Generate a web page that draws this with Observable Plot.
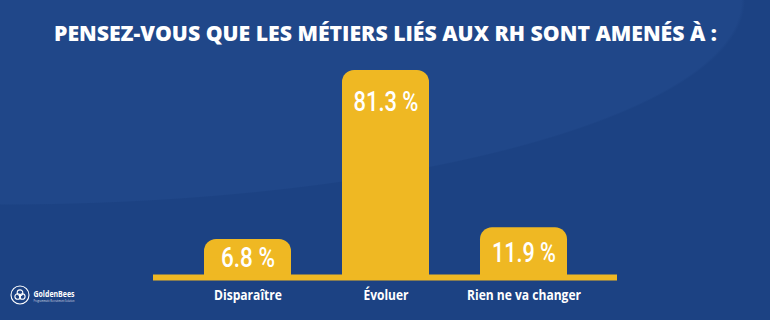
<!DOCTYPE html>
<html>
<head>
<meta charset="utf-8">
<script src="https://cdn.jsdelivr.net/npm/d3@7"></script>
<script src="https://cdn.jsdelivr.net/npm/@observablehq/plot@0.6"></script>
<style>
  html, body { margin: 0; padding: 0; background: #1c4283; }
  #chart {
    width: 770px; height: 320px; overflow: hidden;
    background:
      radial-gradient(ellipse 745px 205px at 0 0, #204789 0 99.5%, rgba(0,0,0,0) 100%),
      #1c4283;
  }
  #chart svg { display: block; }
</style>
</head>
<body>
<div id="chart"></div>
<script>
const title = "PENSEZ-VOUS QUE LES MÉTIERS LIÉS AUX RH SONT AMENÉS À :";
const categories = ["Disparaître", "Évoluer", "Rien ne va changer"];
const values = [6.8, 81.3, 11.9];
const valueLabels = ["6.8 %", "81.3 %", "11.9 %"];

const data = categories.map((c, i) => ({ cat: c, value: values[i], label: valueLabels[i] }));

const gold = "#efb823";
const base = -10;           // visual baseline offset (bars start below zero)
const labelInset = 14.1;    // label offset from bar top, in value units

const plot = Plot.plot({
  width: 770,
  height: 320,
  marginTop: 70,
  marginBottom: 43,
  marginLeft: 153,
  marginRight: 153,
  style: { background: "transparent", color: "white", fontFamily: "'Open Sans', sans-serif", overflow: "visible" },
  x: { domain: categories, paddingInner: 0.373, paddingOuter: 0.358, axis: null },
  y: { domain: [base, 81.3], axis: null },
  marks: [
    Plot.barY(data, { x: "cat", y1: base, y2: "value", fill: gold, rx: 12 }),
    Plot.barY(data, { x: "cat", y1: base, y2: d => (d.value + base) / 2, fill: gold }),
    Plot.ruleY([base], { stroke: gold, strokeWidth: 6 }),
    Plot.text(data, {
      x: "cat",
      y: d => d.value - Math.min((d.value - base) / 2, labelInset),
      text: "label",
      fill: "white",
      fontSize: 28,
      fontFamily: "Roboto, sans-serif",
      fontWeight: 500,
      lineAnchor: "middle"
    }),
    Plot.text(data, {
      x: "cat",
      frameAnchor: "bottom",
      text: "cat",
      fill: "white",
      fontSize: 14,
      fontWeight: "bold",
      lineAnchor: "bottom",
      dy: 22
    }),
    Plot.text([title], {
      frameAnchor: "top",
      text: d => d,
      fill: "white",
      fontSize: 21,
      fontWeight: 800,
      lineAnchor: "middle",
      dy: -36
    }),
    Plot.text(["GoldenBees"], {
      frameAnchor: "bottom-left",
      text: d => d,
      fill: "white",
      fontSize: 8.5,
      fontWeight: "bold",
      textAnchor: "start",
      lineAnchor: "bottom",
      dx: -120,
      dy: 19
    }),
    Plot.text(["Programmatic Recruitment Solution"], {
      frameAnchor: "bottom-left",
      text: d => d,
      fill: "white",
      fillOpacity: 0.8,
      fontSize: 3,
      textAnchor: "start",
      lineAnchor: "bottom",
      dx: -120,
      dy: 24
    })
  ]
});

// condensed look: adjust text lengths (style only)
const textWidths = {
  "6.8 %": 54, "81.3 %": 65, "11.9 %": 64,
  "Disparaître": 68, "Évoluer": 45, "Rien ne va changer": 114,
  "GoldenBees": 41, "Programmatic Recruitment Solution": 41
};
textWidths[title] = 663;
const svg = d3.select(plot);
svg.selectAll("text").each(function () {
  const t = this.textContent.trim();
  if (textWidths[t] != null) {
    this.setAttribute("textLength", textWidths[t]);
    this.setAttribute("lengthAdjust", "spacingAndGlyphs");
  }
});

// logo icon (decoration)
const icon = svg.append("g").attr("transform", "translate(20,295)").attr("fill", "none").attr("stroke", "white").attr("stroke-width", 1.1);
icon.append("circle").attr("r", 9);
icon.append("circle").attr("cx", -2.3).attr("cy", 1.5).attr("r", 2.8);
icon.append("circle").attr("cx", 2.3).attr("cy", 1.5).attr("r", 2.8);
icon.append("circle").attr("cx", 0).attr("cy", -2.3).attr("r", 2.8);

document.getElementById("chart").appendChild(plot);
</script>
</body>
</html>
